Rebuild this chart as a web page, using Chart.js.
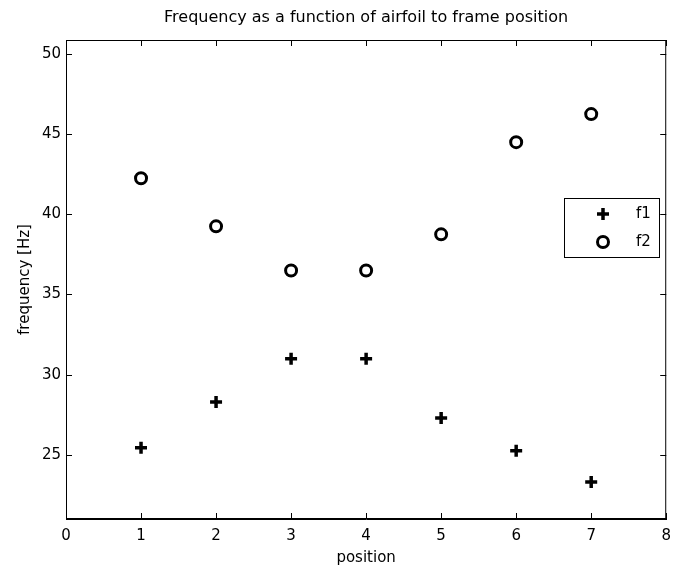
<!DOCTYPE html>
<html>
<head>
<meta charset="utf-8">
<script src="https://cdn.jsdelivr.net/npm/chart.js@4.4.0/dist/chart.umd.min.js"></script>
<style>
  html, body { margin: 0; padding: 0; background: #fff; }
</style>
</head>
<body>
<canvas id="freqChart" width="679" height="572"></canvas>
<script>
// values
const positions = [1, 2, 3, 4, 5, 6, 7];
const f1 = [25.45, 28.3, 31.0, 31.0, 27.3, 25.25, 23.3];
const f2 = [42.25, 39.25, 36.5, 36.5, 38.75, 44.5, 46.25];
const xTicks = [0, 1, 2, 3, 4, 5, 6, 7, 8];
const yTicks = [25, 30, 35, 40, 45, 50];
const seriesNames = ['f1', 'f2'];
const titleText = 'Frequency as a function of airfoil to frame position';

const FONT = 'DejaVu Sans';

// inward ticks on all four sides, box outline, title and legend (matlab style)
const matlabFrame = {
  id: 'matlabFrame',
  afterDraw(chart) {
    const { ctx, chartArea: a, scales } = chart;
    ctx.save();
    ctx.strokeStyle = '#000';
    ctx.lineWidth = 1;
    ctx.strokeRect(a.left + 0.5, a.top + 0.5, a.right - a.left - 1, a.bottom - a.top - 1);

    const len = 6;
    ctx.beginPath();
    xTicks.forEach(v => {
      const x = Math.round(scales.x.getPixelForValue(v)) + 0.5;
      ctx.moveTo(x, a.bottom); ctx.lineTo(x, a.bottom - len);
      ctx.moveTo(x, a.top); ctx.lineTo(x, a.top + len);
    });
    yTicks.forEach(v => {
      const y = Math.round(scales.y.getPixelForValue(v)) + 0.5;
      ctx.moveTo(a.left, y); ctx.lineTo(a.left + len, y);
      ctx.moveTo(a.right, y); ctx.lineTo(a.right - len, y);
    });
    ctx.stroke();

    // title
    ctx.fillStyle = '#000';
    ctx.font = '16px "' + FONT + '"';
    ctx.textAlign = 'center';
    ctx.textBaseline = 'middle';
    ctx.fillText(titleText, (a.left + a.right) / 2, 18);

    // legend box
    const bx = 564, by = 198, bw = 95, bh = 59;
    ctx.fillStyle = '#fff';
    ctx.fillRect(bx, by, bw, bh);
    ctx.strokeRect(bx + 0.5, by + 0.5, bw, bh);
    ctx.font = '15px "' + FONT + '"';
    chart.data.datasets.forEach((ds, i) => {
      const y = by + 16 + i * 28;
      ctx.strokeStyle = '#000';
      ctx.fillStyle = ds.backgroundColor;
      ctx.lineWidth = ds.borderWidth;
      Chart.helpers.drawPoint(ctx, {
        pointStyle: ds.pointStyle, radius: ds.pointRadius,
        borderWidth: ds.borderWidth, rotation: 0
      }, bx + 39, y);
      ctx.fillStyle = '#000';
      ctx.textAlign = 'left';
      ctx.fillText(ds.label, bx + 72, y);
    });
    ctx.restore();
  }
};

const ctx = document.getElementById('freqChart').getContext('2d');
new Chart(ctx, {
  type: 'scatter',
  data: {
    datasets: [
      {
        label: seriesNames[0],
        data: positions.map((p, i) => ({ x: p, y: f1[i] })),
        pointStyle: 'cross',
        pointRadius: 6,
        borderWidth: 3.5,
        borderColor: '#000',
        backgroundColor: '#000'
      },
      {
        label: seriesNames[1],
        data: positions.map((p, i) => ({ x: p, y: f2[i] })),
        pointStyle: 'circle',
        pointRadius: 5.5,
        borderWidth: 3,
        borderColor: '#000',
        backgroundColor: '#fff'
      }
    ]
  },
  options: {
    responsive: false,
    animation: false,
    devicePixelRatio: 1,
    layout: { padding: { top: 40, right: 5, left: 0, bottom: 0 } },
    plugins: {
      legend: { display: false },
      title: { display: false },
      tooltip: { enabled: false }
    },
    scales: {
      x: {
        type: 'linear',
        min: 0,
        max: 8,
        afterBuildTicks: s => { s.ticks = xTicks.map(v => ({ value: v })); },
        afterFit: s => { s.height = 53; },
        grid: { display: false, drawTicks: false },
        border: { display: true, color: '#000', width: 1 },
        ticks: { color: '#000', padding: 8, font: { family: FONT, size: 15 } },
        title: {
          display: true, text: 'position', color: '#000',
          font: { family: FONT, size: 15 }, padding: { top: 0, bottom: 5 }
        }
      },
      y: {
        type: 'linear',
        min: 21,
        max: 50.87,
        afterBuildTicks: s => { s.ticks = yTicks.map(v => ({ value: v })); },
        afterFit: s => { s.width = 66; },
        grid: { display: false, drawTicks: false },
        border: { display: true, color: '#000', width: 1 },
        ticks: { color: '#000', padding: 5, font: { family: FONT, size: 15 } },
        title: {
          display: true, text: 'frequency [Hz]', color: '#000',
          font: { family: FONT, size: 15 }, padding: { top: 16, bottom: 0 }
        }
      }
    }
  },
  plugins: [matlabFrame]
});
</script>
</body>
</html>
